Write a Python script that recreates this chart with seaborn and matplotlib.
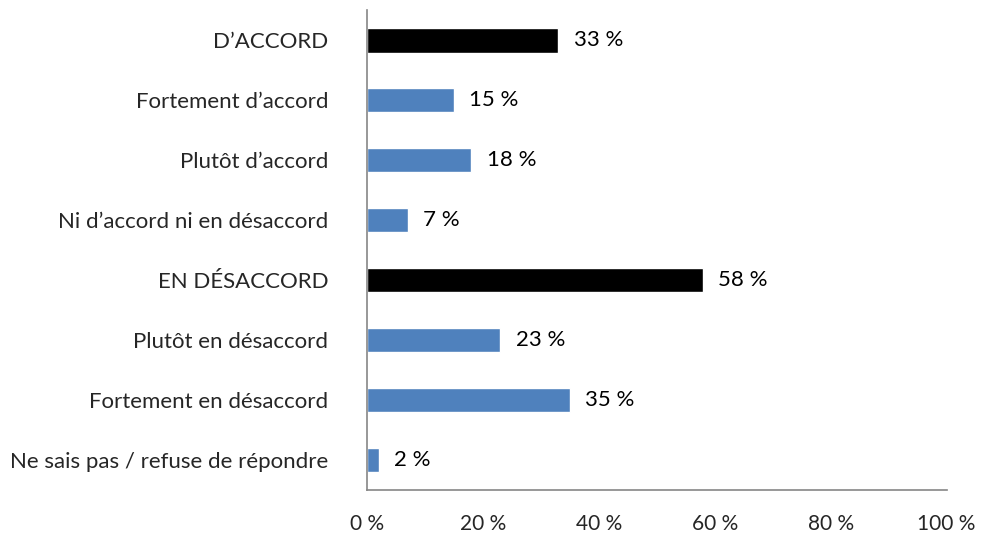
import matplotlib
matplotlib.use("Agg")
import matplotlib.pyplot as plt
import numpy as np
import pandas as pd
import seaborn as sns
from matplotlib.ticker import FixedLocator, FuncFormatter

categories = [
    "D\u2019ACCORD",
    "Fortement d\u2019accord",
    "Plutôt d\u2019accord",
    "Ni d\u2019accord ni en désaccord",
    "EN DÉSACCORD",
    "Plutôt en désaccord",
    "Fortement en désaccord",
    "Ne sais pas / refuse de répondre",
]
values = [33, 15, 18, 7, 58, 23, 35, 2]
bar_colors = ["#000000", "#4F81BD", "#4F81BD", "#4F81BD",
              "#000000", "#4F81BD", "#4F81BD", "#4F81BD"]

df = pd.DataFrame({"categorie": categories, "valeur": values})

sns.set_style("white")
plt.rcParams["font.family"] = ["Lato", "DejaVu Sans"]

fig = plt.figure(figsize=(9.84, 5.38), dpi=100)
ax = fig.add_axes([0.373, 0.089, 0.589, 0.892])

sns.barplot(data=df, x="valeur", y="categorie", hue="categorie",
            palette=bar_colors, legend=False, width=0.41, ax=ax,
            saturation=1)

for cont in ax.containers:
    ax.bar_label(cont, labels=[f"{v:.0f} %" for v in cont.datavalues],
                 padding=11, fontsize=16, color="black")

ax.set_xlim(0, 100)
ax.set_ylim(len(categories) - 0.5, -0.5)
ax.set_xlabel("")
ax.set_ylabel("")

ax.xaxis.set_major_locator(FixedLocator([0, 20, 40, 60, 80, 100]))
ax.xaxis.set_major_formatter(FuncFormatter(lambda v, p: f"{v:.0f} %"))

# category ticks without marks, boundary ticks as minor marks
ax.yaxis.set_minor_locator(FixedLocator(np.arange(-0.5, len(categories), 1)))
ax.tick_params(axis="y", which="major", length=0, pad=28, labelsize=16)
ax.tick_params(axis="y", which="minor", length=6, width=1.2, color="#868686")
ax.tick_params(axis="x", which="major", length=7, width=1.2, color="#868686",
               pad=10, labelsize=15)

sns.despine(ax=ax)
for s in ["left", "bottom"]:
    ax.spines[s].set_color("#868686")
    ax.spines[s].set_linewidth(1.2)

fig.savefig("out.png", dpi=100)
